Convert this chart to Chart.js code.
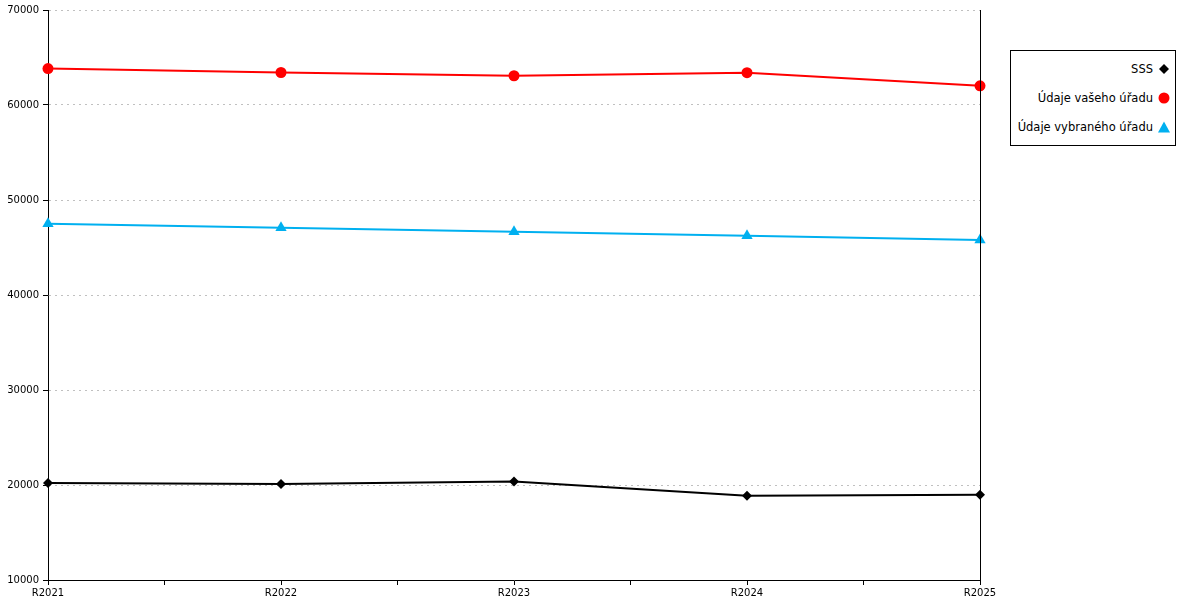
<!DOCTYPE html>
<html>
<head>
<meta charset="utf-8">
<script src="https://cdn.jsdelivr.net/npm/chart.js@4"></script>
<style>
    body { margin: 0; background: #fff; }
    #wrap { position: relative; width: 1200px; height: 600px; }
    #legend {
        position: absolute; left: 1010px; top: 50px; width: 164px; height: 90px;
        border: 1px solid #000; background: #fff;
        font: 11.5px "DejaVu Sans", sans-serif; color: #000;
        padding-top: 4px; box-sizing: content-box;
    }
    #legend .item { height: 29px; line-height: 29px; text-align: right; padding-right: 5px; white-space: nowrap; }
    #legend svg { vertical-align: middle; margin-left: 5px; position: relative; top: -1px; }
</style>
</head>
<body>
<div id="wrap">
    <canvas id="chart" width="1200" height="600"></canvas>
    <div id="legend"></div>
</div>
<script>
// 年度ラベル
const labels = ['R2021', 'R2022', 'R2023', 'R2024', 'R2025'];
// 系列データ
const sss = [20210, 20110, 20380, 18880, 18980];
const vasehoUradu = [63830, 63420, 63080, 63400, 62020];
const vybranehoUradu = [47500, 47080, 46650, 46230, 45800];
// Y軸目盛り
const yMin = 10000;
const yMax = 70000;
const yStep = 10000;

// 系列定義
const series = [
    { label: 'SSS', data: sss, color: '#000000', style: 'rectRot', radius: 5 },
    { label: 'Údaje vašeho úřadu', data: vasehoUradu, color: '#ff0000', style: 'circle', radius: 5.5 },
    { label: 'Údaje vybraného úřadu', data: vybranehoUradu, color: '#00b0f0', style: 'triangle', radius: 6.5 }
];

// 右側の枠線
const rightBorder = {
    id: 'rightBorder',
    afterDatasetsDraw(chart) {
        const { ctx, chartArea } = chart;
        ctx.save();
        ctx.strokeStyle = '#000';
        ctx.lineWidth = 1;
        ctx.beginPath();
        ctx.moveTo(Math.round(chartArea.right) + 0.5, chartArea.top);
        ctx.lineTo(Math.round(chartArea.right) + 0.5, chartArea.bottom);
        ctx.stroke();
        ctx.restore();
    }
};

const tickFont = { family: 'DejaVu Sans', size: 10 };

new Chart(document.getElementById('chart'), {
    type: 'line',
    data: {
        datasets: series.map(s => ({
            label: s.label,
            data: s.data.map((v, i) => ({ x: i, y: v })),
            borderColor: s.color,
            backgroundColor: s.color,
            pointBackgroundColor: s.color,
            pointBorderColor: s.color,
            pointStyle: s.style,
            pointRadius: s.radius,
            pointBorderWidth: 0,
            borderWidth: 2,
            tension: 0,
            clip: false
        }))
    },
    options: {
        responsive: false,
        animation: false,
        devicePixelRatio: 1,
        layout: { padding: { top: 10, right: 220, left: 0, bottom: 0 } },
        plugins: {
            legend: { display: false },
            tooltip: { enabled: false }
        },
        scales: {
            x: {
                type: 'linear',
                min: 0,
                max: labels.length - 1,
                afterFit(scale) { scale.height = 20; },
                ticks: {
                    stepSize: 0.5,
                    autoSkip: false,
                    maxRotation: 0,
                    padding: 2,
                    color: '#000',
                    font: tickFont,
                    callback: v => Number.isInteger(v) ? labels[v] : ''
                },
                grid: { drawOnChartArea: false, tickLength: 5, tickColor: '#000' },
                border: { color: '#000', width: 1 }
            },
            y: {
                min: yMin,
                max: yMax,
                afterFit(scale) { scale.width = 48; },
                ticks: { stepSize: yStep, padding: 4, color: '#000', font: tickFont, callback: v => String(v) },
                grid: { color: '#c0c0c0', tickLength: 5, tickColor: '#000' },
                border: { color: '#000', width: 1, dash: [2, 4] }
            }
        }
    },
    plugins: [rightBorder]
});

// 凡例を作成
const markers = {
    rectRot: c => `<polygon points="6,1 11,6 6,11 1,6" fill="${c}"/>`,
    circle: c => `<circle cx="6" cy="6" r="5.5" fill="${c}"/>`,
    triangle: c => `<polygon points="6,0.5 12,11.5 0,11.5" fill="${c}"/>`
};
const legend = document.getElementById('legend');
series.forEach(s => {
    const row = document.createElement('div');
    row.className = 'item';
    row.innerHTML = s.label + `<svg width="12" height="12">${markers[s.style](s.color)}</svg>`;
    legend.appendChild(row);
});
</script>
</body>
</html>
